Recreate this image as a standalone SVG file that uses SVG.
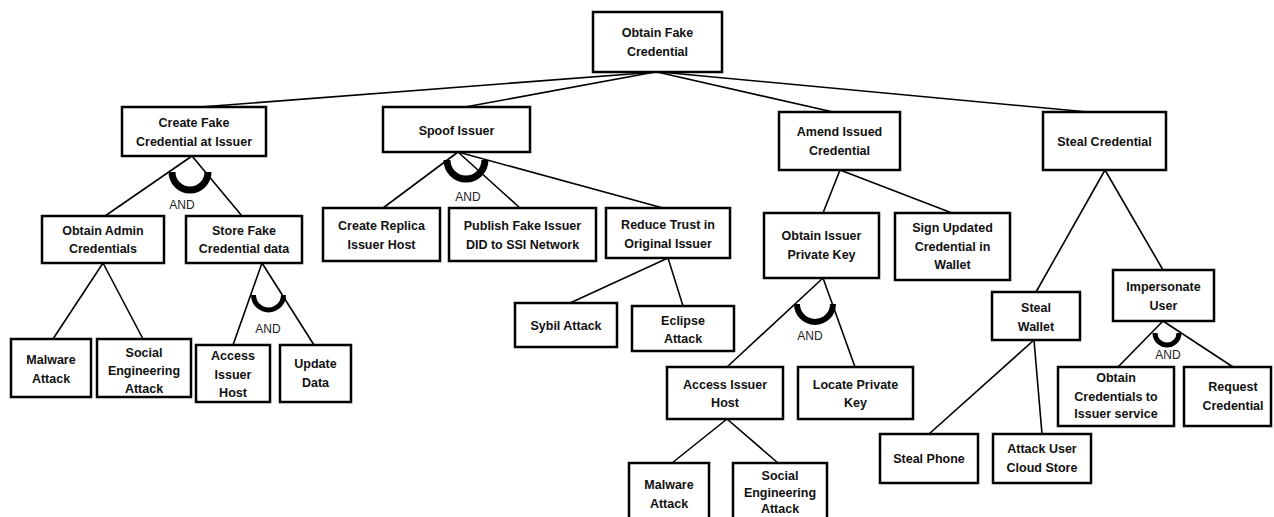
<svg xmlns="http://www.w3.org/2000/svg" width="1274" height="517" viewBox="0 0 1274 517">
<style>
.box{fill:#fff;stroke:#000;stroke-width:2.5}
.t{font-family:"Liberation Sans",Arial,sans-serif;font-weight:bold;font-size:12.5px;fill:#111;text-anchor:middle;dominant-baseline:central}
.c line{stroke:#000;stroke-width:1.6}
.arc{fill:none;stroke:#000}
.and{font-family:"Liberation Sans",Arial,sans-serif;font-size:12px;fill:#222;text-anchor:middle;dominant-baseline:central}
</style>
<rect width="1274" height="517" fill="#fff"/>
<g id="connectors" class="c">
<line x1="657" y1="72" x2="200" y2="107"/>
<line x1="655" y1="72" x2="465" y2="107"/>
<line x1="657" y1="72" x2="833" y2="112"/>
<line x1="660" y1="72" x2="1088" y2="112"/>
<line x1="192" y1="156" x2="105" y2="216"/>
<line x1="192" y1="156" x2="242" y2="216"/>
<line x1="458" y1="152" x2="383" y2="208"/>
<line x1="458" y1="152" x2="520" y2="208"/>
<line x1="458" y1="152" x2="663" y2="208"/>
<line x1="840" y1="170" x2="823" y2="213"/>
<line x1="840" y1="170" x2="952" y2="213"/>
<line x1="1105" y1="170" x2="1036" y2="292"/>
<line x1="1105" y1="170" x2="1163" y2="270"/>
<line x1="103" y1="263" x2="53" y2="339"/>
<line x1="103" y1="263" x2="143" y2="339"/>
<line x1="262" y1="263" x2="233" y2="345"/>
<line x1="262" y1="263" x2="314" y2="345"/>
<line x1="668" y1="258" x2="570" y2="303"/>
<line x1="668" y1="258" x2="683" y2="306"/>
<line x1="823" y1="278" x2="727" y2="367"/>
<line x1="823" y1="278" x2="855" y2="367"/>
<line x1="727" y1="419" x2="672" y2="463"/>
<line x1="727" y1="419" x2="778" y2="463"/>
<line x1="1034" y1="340" x2="929" y2="434"/>
<line x1="1034" y1="340" x2="1042" y2="434"/>
<line x1="1163" y1="321" x2="1118" y2="367"/>
<line x1="1163" y1="321" x2="1233" y2="367"/>
</g>
<g id="and-gates">
<path class="arc" stroke-width="7" d="M172,172 A18,18 0 0 0 208,172"/>
<text class="and" x="182" y="205">AND</text>
<path class="arc" stroke-width="7" d="M447,160 A19,19 0 0 0 485,160"/>
<text class="and" x="468" y="197">AND</text>
<path class="arc" stroke-width="5" d="M253.5,295 A15,15 0 0 0 283.5,295"/>
<text class="and" x="268" y="329">AND</text>
<path class="arc" stroke-width="6" d="M797,304 A18,18 0 0 0 833,304"/>
<text class="and" x="810" y="336">AND</text>
<path class="arc" stroke-width="5" d="M1155,333 A12,12 0 0 0 1179,333"/>
<text class="and" x="1168" y="355">AND</text>
</g>
<g id="n0"><rect class="box" x="593" y="12" width="129" height="60"/><text class="t"><tspan x="657.5" y="33">Obtain Fake</tspan><tspan x="657.5" y="52">Credential</tspan></text></g>
<g id="n1"><rect class="box" x="122" y="107" width="144" height="49"/><text class="t"><tspan x="194" y="123">Create Fake</tspan><tspan x="194" y="142">Credential at Issuer</tspan></text></g>
<g id="n2"><rect class="box" x="383" y="107" width="147" height="45"/><text class="t" x="456.5" y="131">Spoof Issuer</text></g>
<g id="n3"><rect class="box" x="779" y="112" width="121" height="58"/><text class="t"><tspan x="839.5" y="132">Amend Issued</tspan><tspan x="839.5" y="151">Credential</tspan></text></g>
<g id="n4"><rect class="box" x="1043" y="112" width="123" height="58"/><text class="t" x="1104.5" y="142">Steal Credential</text></g>
<g id="n5"><rect class="box" x="42" y="216" width="122" height="47"/><text class="t"><tspan x="103" y="231">Obtain Admin</tspan><tspan x="103" y="249">Credentials</tspan></text></g>
<g id="n6"><rect class="box" x="186" y="216" width="116" height="47"/><text class="t"><tspan x="244" y="231">Store Fake</tspan><tspan x="244" y="249">Credential data</tspan></text></g>
<g id="n7"><rect class="box" x="323" y="208" width="117" height="53"/><text class="t"><tspan x="381.5" y="226">Create Replica</tspan><tspan x="381.5" y="245">Issuer Host</tspan></text></g>
<g id="n8"><rect class="box" x="449" y="208" width="147" height="53"/><text class="t"><tspan x="522.5" y="226">Publish Fake Issuer</tspan><tspan x="522.5" y="245">DID to SSI Network</tspan></text></g>
<g id="n9"><rect class="box" x="606" y="208" width="124" height="50"/><text class="t"><tspan x="668" y="225">Reduce Trust in</tspan><tspan x="668" y="244">Original Issuer</tspan></text></g>
<g id="n10"><rect class="box" x="764" y="213" width="115" height="65"/><text class="t"><tspan x="821.5" y="236">Obtain Issuer</tspan><tspan x="821.5" y="255">Private Key</tspan></text></g>
<g id="n11"><rect class="box" x="895" y="213" width="115" height="67"/><text class="t"><tspan x="952.5" y="228">Sign Updated</tspan><tspan x="952.5" y="247">Credential in</tspan><tspan x="952.5" y="265">Wallet</tspan></text></g>
<g id="n12"><rect class="box" x="11" y="339" width="80" height="58"/><text class="t"><tspan x="51" y="360">Malware</tspan><tspan x="51" y="379">Attack</tspan></text></g>
<g id="n13"><rect class="box" x="97" y="339" width="94" height="58"/><text class="t"><tspan x="144" y="353">Social</tspan><tspan x="144" y="371">Engineering</tspan><tspan x="144" y="389">Attack</tspan></text></g>
<g id="n14"><rect class="box" x="196" y="345" width="74" height="57"/><text class="t"><tspan x="233" y="356">Access</tspan><tspan x="233" y="375">Issuer</tspan><tspan x="233" y="393">Host</tspan></text></g>
<g id="n15"><rect class="box" x="280" y="345" width="71" height="57"/><text class="t"><tspan x="315.5" y="364">Update</tspan><tspan x="315.5" y="383">Data</tspan></text></g>
<g id="n16"><rect class="box" x="515" y="303" width="102" height="44"/><text class="t" x="566" y="326">Sybil Attack</text></g>
<g id="n17"><rect class="box" x="632" y="306" width="102" height="45"/><text class="t"><tspan x="683" y="321">Eclipse</tspan><tspan x="683" y="339">Attack</tspan></text></g>
<g id="n18"><rect class="box" x="667" y="367" width="116" height="52"/><text class="t"><tspan x="725" y="385">Access Issuer</tspan><tspan x="725" y="403">Host</tspan></text></g>
<g id="n19"><rect class="box" x="798" y="367" width="115" height="52"/><text class="t"><tspan x="855.5" y="385">Locate Private</tspan><tspan x="855.5" y="403">Key</tspan></text></g>
<g id="n20"><rect class="box" x="629" y="463" width="80" height="70"/><text class="t"><tspan x="669" y="485">Malware</tspan><tspan x="669" y="504">Attack</tspan></text></g>
<g id="n21"><rect class="box" x="733" y="463" width="94" height="70"/><text class="t"><tspan x="780" y="476">Social</tspan><tspan x="780" y="493">Engineering</tspan><tspan x="780" y="509">Attack</tspan></text></g>
<g id="n22"><rect class="box" x="992" y="292" width="88" height="48"/><text class="t"><tspan x="1036" y="308">Steal</tspan><tspan x="1036" y="327">Wallet</tspan></text></g>
<g id="n23"><rect class="box" x="1113" y="270" width="101" height="51"/><text class="t"><tspan x="1163.5" y="287">Impersonate</tspan><tspan x="1163.5" y="306">User</tspan></text></g>
<g id="n24"><rect class="box" x="880" y="434" width="98" height="49"/><text class="t" x="929" y="459">Steal Phone</text></g>
<g id="n25"><rect class="box" x="993" y="434" width="98" height="49"/><text class="t"><tspan x="1042" y="449">Attack User</tspan><tspan x="1042" y="468">Cloud Store</tspan></text></g>
<g id="n26"><rect class="box" x="1058" y="367" width="116" height="59"/><text class="t"><tspan x="1116" y="378">Obtain</tspan><tspan x="1116" y="397">Credentials to</tspan><tspan x="1116" y="414">Issuer service</tspan></text></g>
<g id="n27"><rect class="box" x="1184" y="367" width="87" height="59"/><text class="t"><tspan x="1233" y="387">Request</tspan><tspan x="1233" y="406">Credential</tspan></text></g>
</svg>
